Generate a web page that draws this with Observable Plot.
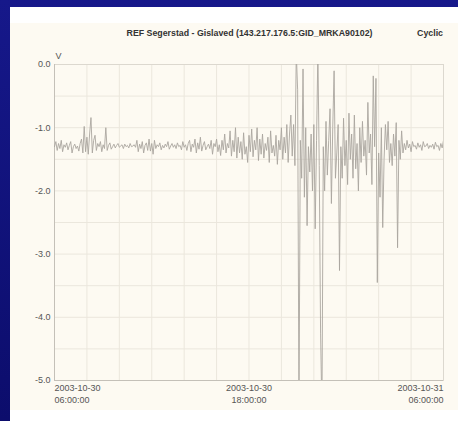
<!DOCTYPE html>
<html>
<head>
<meta charset="utf-8">
<script src="https://cdn.jsdelivr.net/npm/d3@7"></script>
<script src="https://cdn.jsdelivr.net/npm/@observablehq/plot@0.6"></script>
<style>
  html, body { margin: 0; padding: 0; }
  body { width: 458px; height: 421px; background: linear-gradient(#16188a, #0c0d6c); position: relative; overflow: hidden; font-family: "Liberation Sans", Arial, sans-serif; }
  #panel { position: absolute; left: 10px; top: 7px; width: 448px; height: 414px; background: #ffffff; }
  #cream { position: absolute; left: 0; top: 16px; width: 448px; height: 387px; background: #fdfaf2; }
  #title { position: absolute; left: 239.5px; top: 21px; transform: translateX(-50%); white-space: nowrap; font-weight: bold; font-size: 8.8px; color: #333; }
  #cyclic { position: absolute; right: 15px; top: 21px; font-weight: bold; font-size: 8.8px; color: #333; }
  #chart { position: absolute; left: 0; top: 33px; }
</style>
</head>
<body>
<div id="panel">
  <div id="cream"></div>
  <div id="title"></div>
  <div id="cyclic"></div>
  <div id="chart"></div>
</div>
<script>
const titleText = "REF Segerstad - Gislaved (143.217.176.5:GID_MRKA90102)";
const modeText = "Cyclic";
const unitLabel = "V";
const startTime = "2003-10-30T06:00:00";
const endTime = "2003-10-31T06:00:00";
const stepMinutes = 5;
const voltage = [
  -1.30,-1.22,-1.36,-1.25,-1.33,-1.20,-1.38,-1.27,-1.31,-1.24,
  -1.35,-1.28,-1.22,-1.40,-1.30,-1.26,-1.33,-1.29,-1.37,-1.25,
  -1.18,-1.40,-0.98,-1.38,-1.15,-1.42,-1.10,-0.84,-1.40,-1.20,
  -1.12,-1.36,-1.25,-1.30,-1.22,-1.38,-1.27,-1.33,-1.00,-1.36,
  -1.28,-1.24,-1.34,-1.30,-1.26,-1.32,-1.28,-1.25,-1.31,-1.29,
  -1.27,-1.33,-1.26,-1.30,-1.28,-1.32,-1.25,-1.30,-1.29,-1.27,
  -1.31,-1.20,-1.38,-1.26,-1.33,-1.22,-1.40,-1.28,-1.24,-1.36,
  -1.18,-1.37,-1.25,-1.42,-1.20,-1.33,-1.27,-1.30,-1.24,-1.35,
  -1.28,-1.32,-1.26,-1.30,-1.22,-1.34,-1.29,-1.25,-1.31,-1.27,
  -1.33,-1.24,-1.30,-1.28,-1.35,-1.22,-1.31,-1.27,-1.36,-1.25,
  -1.20,-1.38,-1.26,-1.31,-1.18,-1.40,-1.24,-1.34,-1.15,-1.37,
  -1.28,-1.22,-1.35,-1.30,-1.26,-1.33,-1.20,-1.42,-1.25,-1.30,
  -1.18,-1.38,-1.27,-1.44,-1.20,-1.35,-1.10,-1.40,-1.25,-1.32,
  -1.05,-1.45,-1.20,-1.38,-1.00,-1.48,-1.15,-1.40,-1.22,-1.50,
  -1.08,-1.42,-1.30,-1.55,-1.12,-1.38,-1.02,-1.46,-1.20,-1.35,
  -1.00,-1.52,-1.18,-1.42,-1.10,-1.48,-1.25,-1.36,-1.15,-1.55,
  -1.05,-1.40,-1.28,-1.45,-1.12,-1.58,-1.20,-1.35,-1.00,-1.50,
  -1.15,-1.40,-0.95,-1.55,-1.10,-0.80,-1.45,-0.95,-1.60,0.20,
  -0.40,-5.50,-1.20,-1.80,-0.07,-2.10,-1.00,-2.55,-1.30,-1.70,
  -1.10,-2.00,-0.95,-2.60,-1.20,0.20,-1.60,-4.25,-5.50,-1.30,
  -2.00,-0.90,-1.75,-1.20,-0.70,-2.20,-1.00,-0.10,-1.80,-1.40,
  -0.95,-3.26,-1.30,-1.80,-0.85,-1.60,-1.20,-1.90,-0.77,-1.50,
  -1.10,-1.80,-0.80,-1.65,-1.25,-2.00,-1.00,-1.55,-0.90,-1.45,
  -1.20,-1.75,-0.60,-1.40,-1.10,-1.90,-0.18,-1.30,-0.22,-3.45,
  -1.40,-2.10,-1.00,-2.58,-1.50,-0.95,-1.35,-0.90,-1.55,-1.25,
  -1.60,-1.10,-1.45,-0.92,-2.90,-1.20,-1.50,-1.05,-1.40,-1.25,
  -1.35,-1.20,-1.32,-1.26,-1.38,-1.22,-1.30,-1.28,-1.34,-1.24,
  -1.31,-1.27,-1.36,-1.22,-1.30,-1.29,-1.25,-1.33,-1.28,-1.31,
  -1.26,-1.34,-1.23,-1.30,-1.28,-1.36,-1.25,-1.32,-1.20
];
const yTickValues = [0, -1, -2, -3, -4, -5];
const xTickTimes = ["2003-10-30T06:00:00", "2003-10-30T18:00:00", "2003-10-31T06:00:00"];
const xTickLabels = ["2003-10-30\n06:00:00", "2003-10-30\n18:00:00", "2003-10-31\n06:00:00"];

document.getElementById("title").textContent = titleText;
document.getElementById("cyclic").textContent = modeText;

const t0 = new Date(startTime);
const t1 = new Date(endTime);
const series = voltage.map((v, i) => ({t: new Date(+t0 + i * stepMinutes * 60000), v}));
const gridYVals = d3.range(-5, 0.001, 0.5);
const gridXVals = d3.timeHour.every(2).range(t0, new Date(+t1 + 1));
const xt = xTickTimes.map((s, i) => ({t: new Date(s), label: xTickLabels[i]}));

const gridColor = "#ebe7dd";
const labelStyle = {fontSize: 9, fill: "#555", lineHeight: 1.3, frameAnchor: "bottom", lineAnchor: "top", dy: 2};
const chart = Plot.plot({
  width: 448,
  height: 370,
  marginLeft: 44,
  marginRight: 15,
  marginTop: 24,
  marginBottom: 30,
  style: {background: "transparent", fontFamily: "Liberation Sans, Arial, sans-serif"},
  x: {type: "time", domain: [t0, t1], axis: null},
  y: {domain: [-5, 0], axis: null},
  marks: [
    Plot.gridY(gridYVals, {stroke: gridColor, strokeOpacity: 1, strokeWidth: 1}),
    Plot.gridX(gridXVals, {stroke: gridColor, strokeOpacity: 1, strokeWidth: 1}),
    Plot.frame({stroke: "#dcd8cf"}),
    Plot.ruleX([t0], {stroke: "#c4c0b8"}),
    Plot.ruleY([-5], {stroke: "#c4c0b8"}),
    Plot.line(series, {x: "t", y: "v", stroke: "#aaa69f", strokeWidth: 0.9, clip: true}),
    Plot.axisY(yTickValues, {tickSize: 0, tickPadding: 4, tickFormat: d => d.toFixed(1), fontSize: 9, fill: "#555", color: "#555", label: null}),
    Plot.text([unitLabel], {frameAnchor: "top-left", dx: 1, dy: -12, fontSize: 9, fill: "#555"}),
    Plot.text([xt[0]], {x: "t", text: "label", textAnchor: "start", ...labelStyle}),
    Plot.text([xt[1]], {x: "t", text: "label", textAnchor: "middle", ...labelStyle}),
    Plot.text([xt[2]], {x: "t", text: "label", textAnchor: "end", ...labelStyle})
  ]
});
document.getElementById("chart").appendChild(chart);
</script>
</body>
</html>
